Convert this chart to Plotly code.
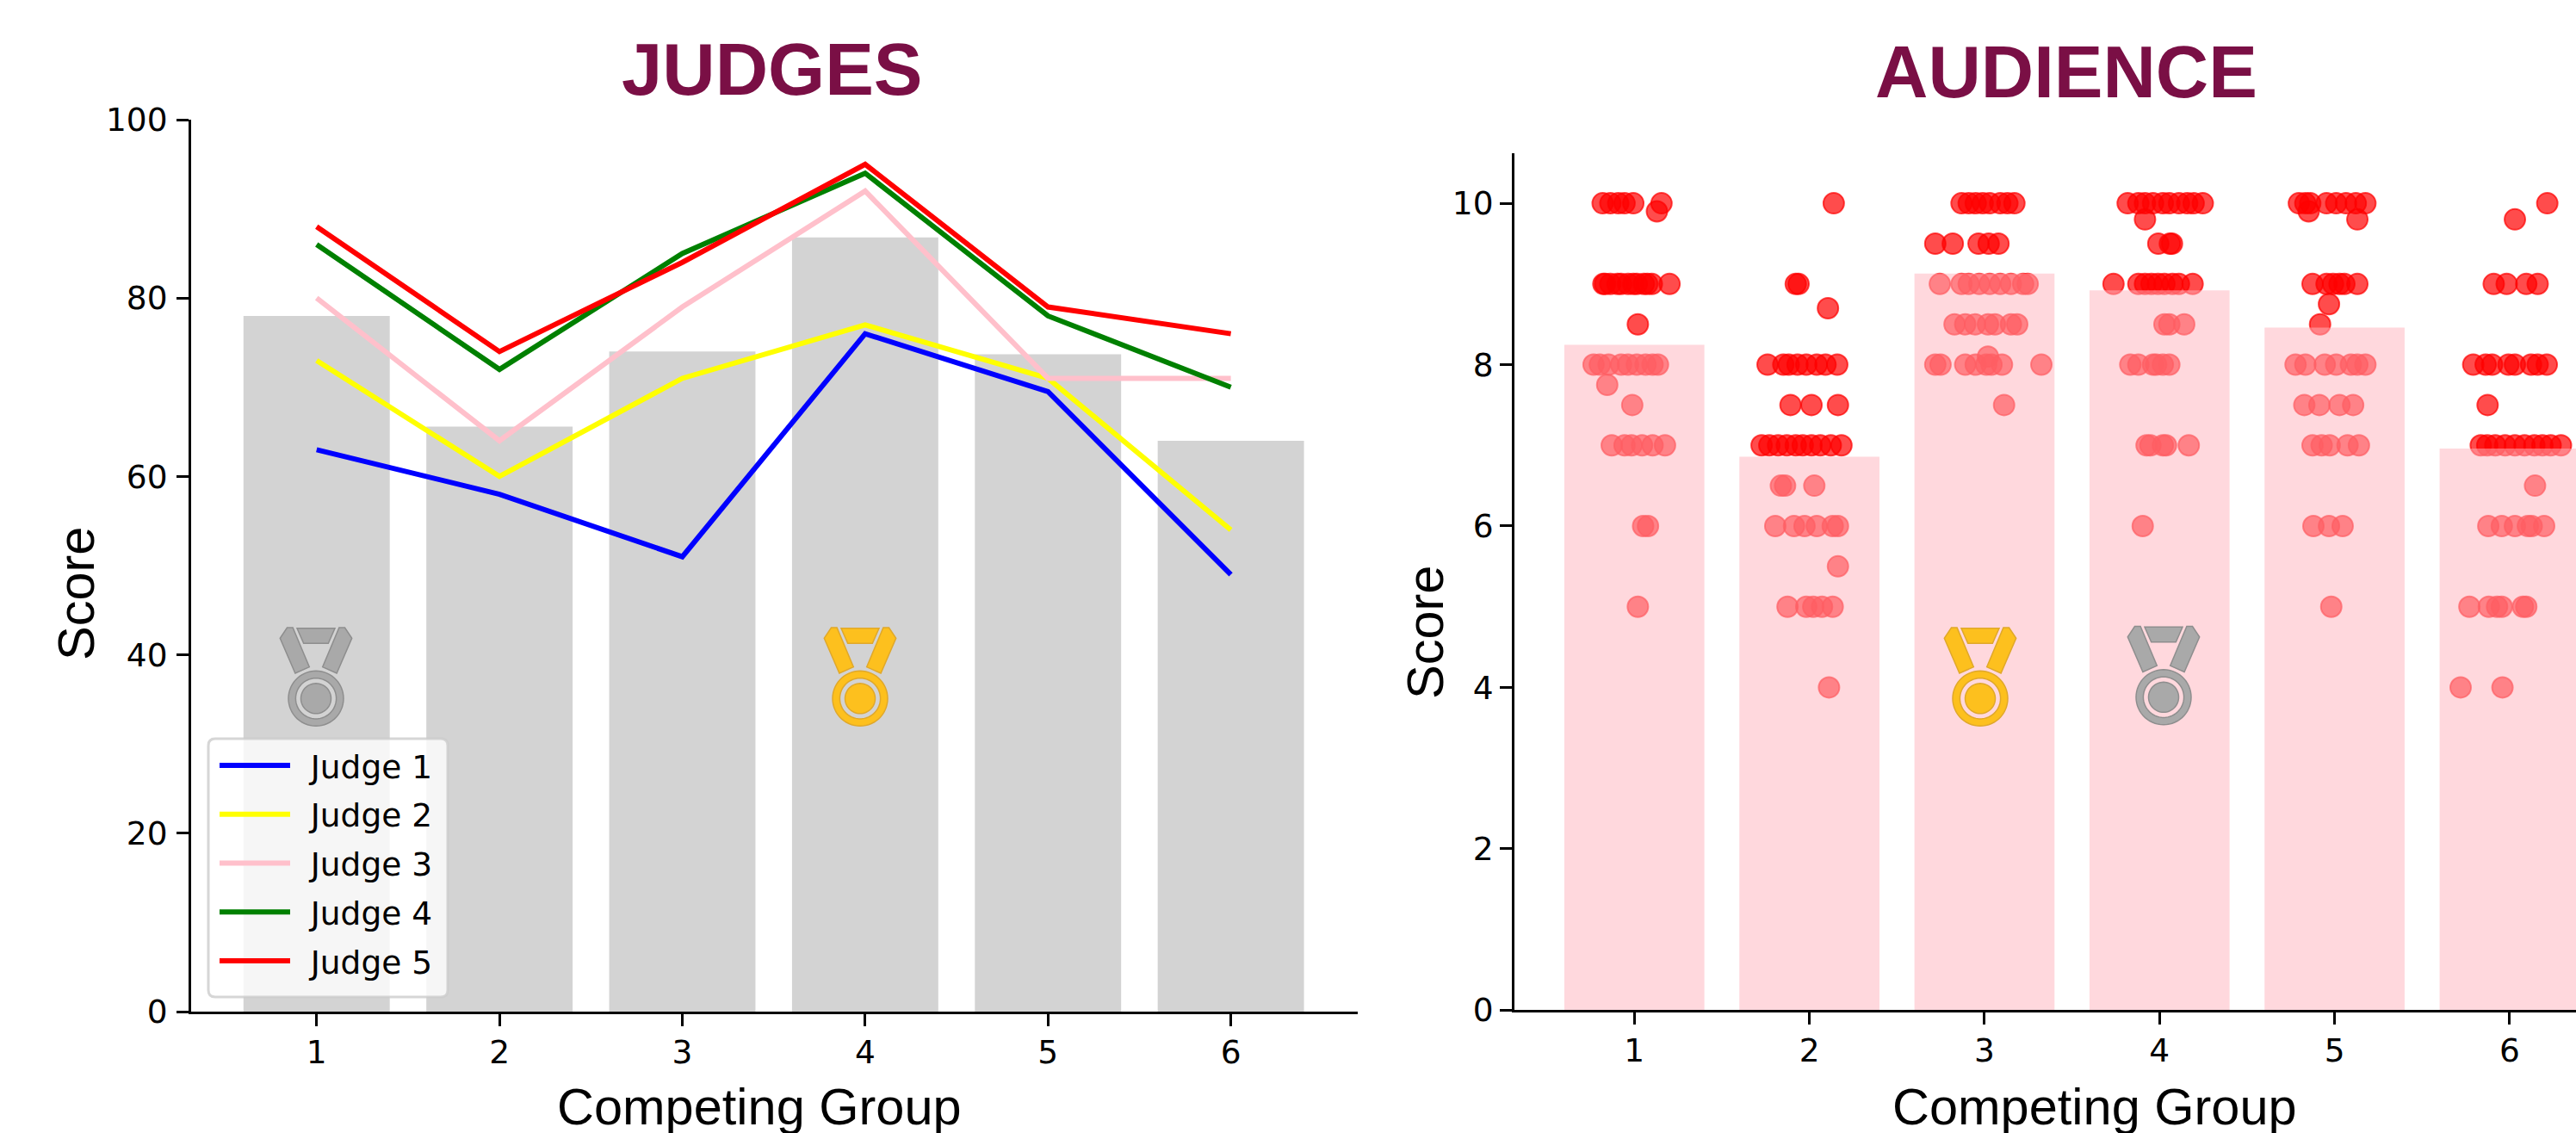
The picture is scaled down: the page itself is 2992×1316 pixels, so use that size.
import numpy as np
import plotly.graph_objects as go

W, H = 2992, 1316
GROUPS = [1, 2, 3, 4, 5, 6]
JUDGE_NAMES = ["Judge 1", "Judge 2", "Judge 3", "Judge 4", "Judge 5"]
JUDGE_COLORS = ["blue", "yellow", "pink", "green", "red"]
JUDGE_1 = [63, 58, 51, 76, 69.5, 49]
JUDGE_2 = [73, 60, 71, 77, 71, 54]
JUDGE_3 = [80, 64, 79, 92, 71, 71]
JUDGE_4 = [86, 72, 85, 94, 78, 70]
JUDGE_5 = [88, 74, 84, 95, 79, 76]
JUDGE_MEANS = [78, 65.6, 74, 86.8, 73.7, 64]
AUDIENCE_MEANS = [8.245, 6.86, 9.13, 8.92, 8.46, 6.96]

# Audience votes per group: score levels and horizontal jitter of each vote at that level
G1_SCORES = [10, 9.9, 9, 8.5, 8, 7.75, 7.5, 7, 6, 5]
G1_JITTER = [[-.181, -.137, -.092, -.056, -.006, .155], [.129],
             [-.177, -.167, -.137, -.096, -.076, -.036, -.006, .014, .054, .074, .100, .201], [.020],
             [-.233, -.197, -.147, -.076, -.036, .014, .064, .104, .135], [-.155], [-.012],
             [-.129, -.056, -.016, .044, .104, .175], [.050, .078], [.020]]
G2_SCORES = [10, 9, 8.7, 8, 7.5, 7, 6.5, 6, 5.5, 5, 4]
G2_JITTER = [[.139], [-.078, -.062], [.106],
             [-.239, -.149, -.118, -.068, -.018, .042, .092, .159], [-.108, .012, .163],
             [-.273, -.229, -.179, -.129, -.078, -.038, .012, .062, .122, .183], [-.163, -.139, .028],
             [-.195, -.088, -.028, .042, .133, .163], [.163], [-.125, -.018, .022, .072, .133], [.112]]
G3_SCORES = [10, 9.5, 9, 8.5, 8.1, 8, 7.5]
G3_JITTER = [[-.131, -.090, -.05, -.01, .03, .09, .131, .171], [-.281, -.181, -.034, .024, .08],
             [-.255, -.131, -.09, -.03, .03, .09, .151, .221, .247],
             [-.171, -.11, -.054, .02, .06, .151, .187], [.02],
             [-.281, -.251, -.11, -.05, .01, .04, .1, .325], [.112]]
G4_SCORES = [10, 9.8, 9.5, 9, 8.5, 8, 7, 6]
G4_JITTER = [[-.182, -.121, -.083, -.037, .019, .056, .111, .158, .195, .247], [-.083],
             [-.007, .059, .071], [-.263, -.121, -.083, -.046, -.009, .028, .074, .111, .189],
             [.028, .056, .141], [-.167, -.121, -.037, -.019, .019, .056],
             [-.074, -.052, .019, .037, .167], [-.096]]
G5_SCORES = [10, 9.9, 9.8, 9, 8.75, 8.5, 8, 7.5, 7, 6, 5]
G5_JITTER = [[-.204, -.167, -.139, -.046, .009, .065, .121, .176], [-.148], [.130],
             [-.126, -.046, -.009, .028, .056, .13], [-.032], [-.083],
             [-.223, -.167, -.056, .009, .093, .13, .176], [-.173, -.087, .028, .106],
             [-.126, -.074, -.028, .074, .139], [-.121, -.032, .046], [-.019]]
G6_SCORES = [10, 9.8, 9, 8, 7.5, 7, 6.5, 6, 5, 4]
G6_JITTER = [[.215], [.03], [-.091, -.017, .095, .16],
             [-.208, -.137, -.1, -.007, .03, .122, .16, .212], [-.126],
             [-.165, -.128, -.082, -.026, .03, .085, .141, .187, .234, .293], [.145],
             [-.122, -.045, .03, .104, .126, .197], [-.23, -.119, -.072, -.045, .076, .095], [-.28, -.041]]
AUDIENCE_SCORES = [G1_SCORES, G2_SCORES, G3_SCORES, G4_SCORES, G5_SCORES, G6_SCORES]
AUDIENCE_JITTER = [G1_JITTER, G2_JITTER, G3_JITTER, G4_JITTER, G5_JITTER, G6_JITTER]

FONT_TICK = "DejaVu Sans"
FONT_LABEL = "Liberation Sans"
TITLE_COLOR = "#7a0f45"
DOT = "rgba(255,0,0,0.7)"


def px(x):
    return x / W


def py(y):
    return 1 - y / H


fig = go.Figure()

# Left panel
fig.add_trace(go.Bar(x=GROUPS, y=JUDGE_MEANS, width=0.8, marker=dict(color="#d3d3d3", line_width=0),
                     showlegend=False, xaxis="x", yaxis="y"))
for i, (name, col, vals) in enumerate(zip(JUDGE_NAMES, JUDGE_COLORS, [JUDGE_1, JUDGE_2, JUDGE_3, JUDGE_4, JUDGE_5])):
    fig.add_trace(go.Scatter(x=GROUPS, y=vals, mode="lines", name="\u2002" + name, legendgroup=name,
                             line=dict(color=col, width=6), xaxis="x", yaxis="y"))

# Right panel: dots below, translucent bars over them
for g, scores, jitter in zip(GROUPS, AUDIENCE_SCORES, AUDIENCE_JITTER):
    xs, ys = [], []
    for s, offs in zip(scores, jitter):
        for o in offs:
            xs.append(g + o)
            ys.append(s)
    fig.add_trace(go.Scatter(x=xs, y=ys, mode="markers", showlegend=False, xaxis="x2", yaxis="y2",
                             marker=dict(size=24, color=DOT, line=dict(color=DOT, width=2))))
fig.add_trace(go.Bar(x=GROUPS, y=AUDIENCE_MEANS, width=0.8, showlegend=False, xaxis="x3", yaxis="y3",
                     marker=dict(color="rgba(255,180,190,0.52)", line_width=0)))


def poly(pts):
    return "M" + "L".join(f"{px(x):.6f},{py(y):.6f}" for x, y in pts) + "Z"


def ellipse(cx, cy, r, rev=False):
    t = np.linspace(0, 2 * np.pi, 60, endpoint=False)
    if rev:
        t = t[::-1]
    return [(cx + r * np.cos(a), cy + r * np.sin(a)) for a in t]


def medal(cx, top, fill, edge):
    parts = []
    rib = [(-33.5, 0), (-26.9, 0), (-7.7, 45.7), (-24.1, 53), (-41.7, 12.3)]
    parts.append(poly([(cx + a, top + b) for a, b in rib]))
    parts.append(poly([(cx - a, top + b) for a, b in rib]))
    parts.append(poly([(cx + a, top + b) for a, b in [(-22, .7), (22, .7), (14.3, 18.3), (-14.3, 18.3)]]))
    cy = top + 82.3
    parts.append(poly(ellipse(cx, cy, 32)) + poly(ellipse(cx, cy, 23.6, True)))
    parts.append(poly(ellipse(cx, cy, 17.5)))
    return dict(type="path", xref="paper", yref="paper", layer="above", path="".join(parts),
                fillcolor=fill, line=dict(color=edge, width=1.5))


GOLD, GOLD_E = "#fdc01e", "#e0a82a"
SILVER, SILVER_E = "#a9a9a9", "#8e8e8e"


def rounded(x0, y0, x1, y1, r):
    c = r
    return (f"M{px(x0 + c):.6f},{py(y0):.6f}L{px(x1 - c):.6f},{py(y0):.6f}"
            f"Q{px(x1):.6f},{py(y0):.6f} {px(x1):.6f},{py(y0 + c):.6f}"
            f"L{px(x1):.6f},{py(y1 - c):.6f}Q{px(x1):.6f},{py(y1):.6f} {px(x1 - c):.6f},{py(y1):.6f}"
            f"L{px(x0 + c):.6f},{py(y1):.6f}Q{px(x0):.6f},{py(y1):.6f} {px(x0):.6f},{py(y1 - c):.6f}"
            f"L{px(x0):.6f},{py(y0 + c):.6f}Q{px(x0):.6f},{py(y0):.6f} {px(x0 + c):.6f},{py(y0):.6f}Z")


shapes = [
    medal(367, 729, SILVER, SILVER_E),
    medal(999, 729, GOLD, GOLD_E),
    medal(2300, 729, GOLD, GOLD_E),
    medal(2513, 727.5, SILVER, SILVER_E),
    dict(type="path", xref="paper", yref="paper", layer="above", path=rounded(242, 858, 520, 1158, 8),
         fillcolor="rgba(255,255,255,0.8)", line=dict(color="rgba(204,204,204,0.8)", width=3)),
]


def ann(text, x, y, size, bold=False, color="black", angle=0):
    return dict(text=f"<b>{text}</b>" if bold else text, x=px(x), y=py(y), xref="paper", yref="paper",
                xanchor="center", yanchor="middle", showarrow=False, textangle=angle,
                font=dict(family=FONT_LABEL, size=size, color=color))


annotations = [
    ann("JUDGES", 897, 80, 85, True, TITLE_COLOR),
    ann("AUDIENCE", 2400, 84, 85, True, TITLE_COLOR),
    ann("Competing Group", 882, 1285, 59.5),
    ann("Competing Group", 2433, 1285, 59.5),
    ann("Score", 88, 690, 59.5, angle=-90),
    ann("Score", 1656, 735, 59.5, angle=-90),
]

axis = dict(showgrid=False, zeroline=False, showline=True, linecolor="black", linewidth=3, ticks="outside",
            ticklen=14, tickwidth=3, tickcolor="black", tickfont=dict(family=FONT_TICK, size=37.5, color="black"))

XR1 = [0.3137, 6.694]
XR2 = [0.315, 6.379]
YR2 = [0, 10.62]
dom1x = [px(222), px(1577)]
dom2x = [px(1759), 1]
dom1y = [py(1175), py(139)]
dom2y = [py(1173.3), py(178)]

fig.update_layout(
    width=W, height=H, margin=dict(l=0, r=0, t=0, b=0, autoexpand=False),
    paper_bgcolor="white", plot_bgcolor="rgba(0,0,0,0)", barmode="overlay", hovermode=False,
    shapes=shapes, annotations=annotations,
    legend=dict(x=px(250), y=py(858), xanchor="left", yanchor="top", bgcolor="rgba(0,0,0,0)", borderwidth=0,
                font=dict(family=FONT_TICK, size=37.5, color="black"), itemwidth=82, tracegroupgap=5,
                traceorder="grouped"),
    xaxis=dict(axis, domain=dom1x, range=XR1, tickvals=GROUPS, ticktext=[str(g) for g in GROUPS],
               ticklabelstandoff=-2),
    yaxis=dict(axis, domain=dom1y, range=[0, 100], tickvals=[0, 20, 40, 60, 80, 100], ticklabelstandoff=3),
    xaxis2=dict(axis, domain=dom2x, range=XR2, tickvals=GROUPS, ticktext=[str(g) for g in GROUPS], anchor="y2",
                ticklabelstandoff=-2),
    yaxis2=dict(axis, domain=dom2y, range=YR2, tickvals=[0, 2, 4, 6, 8, 10], anchor="x2"),
    xaxis3=dict(domain=dom2x, range=XR2, overlaying="x2", visible=False, anchor="y3"),
    yaxis3=dict(domain=dom2y, range=YR2, overlaying="y2", visible=False, anchor="x3"),
)

fig.write_html("out.html", config={"displayModeBar": False},
               post_script="document.body.style.margin='0';document.body.style.overflow='hidden';")
